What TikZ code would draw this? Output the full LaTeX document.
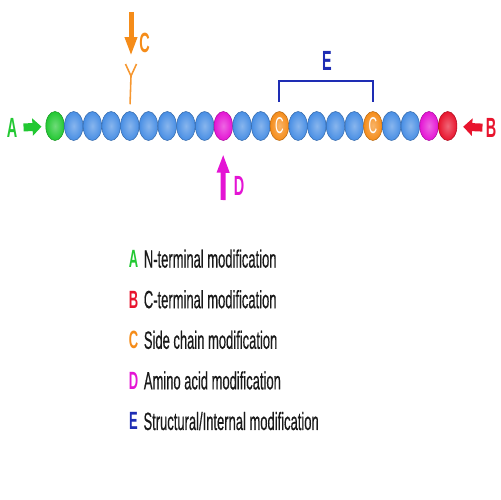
\documentclass[tikz,border=0pt]{standalone}
\usepackage{fontspec}
\setmainfont{Liberation Sans}
\newfontfamily\heavysans{Liberation Sans}[FakeBold=0.7]
\usepackage{graphicx}
\usetikzlibrary{shapes.geometric, arrows.meta, positioning}
\definecolor{pgreen}{RGB}{34,200,50}
\definecolor{pred}{RGB}{232,20,45}
\definecolor{pmag}{RGB}{228,20,212}
\definecolor{porange}{RGB}{245,140,25}
\definecolor{pblue}{RGB}{72,142,228}
\definecolor{eblue}{RGB}{30,45,180}
\newcommand{\cond}[1]{\scalebox{0.52}[1]{#1}}
\tikzset{
  bead/.style={ellipse, minimum width=0.37cm, minimum height=0.58cm, inner sep=0pt,
    draw=#1!75!black, line width=0.3pt, inner color=#1!65!white, outer color=#1},
  tag/.style={inner sep=0pt, font=\fontsize{15.8}{16}\selectfont\bfseries},
  legkey/.style={inner sep=0pt, font=\fontsize{14.2}{15}\selectfont\bfseries},
  legtext/.style={inner sep=0pt, font=\fontsize{14.2}{15}\heavysans, text=black!90},
  fatarrow/.style={-{Triangle[length=0.18cm, width=0.34cm]}, line width=0.16cm},
  thinarrow/.style={-{Triangle[length=0.38cm, width=0.23cm]}, line width=0.1cm}
}
\begin{document}
\begin{tikzpicture}[x=0.02cm, y=-0.02cm]
  \useasboundingbox (0,0) rectangle (500,500);

  % Peptide chain
  \foreach \i/\col in {0/pgreen,1/pblue,2/pblue,3/pblue,4/pblue,5/pblue,6/pblue,
      7/pblue,8/pblue,9/pmag,10/pblue,11/pblue,12/porange,13/pblue,14/pblue,
      15/pblue,16/pblue,17/porange,18/pblue,19/pblue,20/pmag,21/pred}
    \node[bead=\col] (b\i) at ({55+18.7*\i},126) {};
  \node[text=white, inner sep=0pt, font=\fontsize{13}{13}\selectfont] (cys1) at (b12) {\cond{C}};
  \node[text=white, inner sep=0pt, font=\fontsize{13}{13}\selectfont] (cys2) at (b17) {\cond{C}};

  % A: N-terminus
  \node[tag, text=pgreen] (nA) at (12,128) {\cond{A}};
  \draw[fatarrow, pgreen, shorten <=0.12cm, shorten >=0.08cm] (nA) -- (b0);

  % B: C-terminus
  \node[tag, text=pred] (nB) at (491,128) {\cond{B}};
  \draw[fatarrow, pred, shorten <=0.06cm, shorten >=0.12cm] (nB) -- (b21);

  % C: side chain
  \coordinate (fork) at (131,76);
  \coordinate (armL) at (125.5,64);
  \coordinate (armR) at (136.5,64);
  \draw[porange!90, line width=0.9pt, shorten <=0.14cm] (b4.north) -- (fork);
  \draw[porange!90, line width=0.9pt] (armL) -- (fork) -- (armR);
  \coordinate (cTop) at (131,12);
  \coordinate (cTip) at (131,56);
  \draw[thinarrow, porange] (cTop) -- (cTip);
  \node[tag, text=porange] (nC) at (144.5,43) {\cond{C}};

  % D: amino acid
  \coordinate (dTail) at (223,200);
  \draw[thinarrow, pmag, shorten >=0.26cm] (dTail) -- (b9);
  \node[tag, text=pmag] (nD) at (239,186) {\cond{D}};

  % E: disulfide bridge
  \coordinate (eTop) at (326.5,81);
  \draw[eblue, line width=1.2pt, shorten <=0.18cm, shorten >=0.18cm]
    (b12.north) |- (eTop) -| (b17.north);
  \node[tag, text=eblue] (nE) at (327,61) {\cond{E}};

  % Legend
  \foreach \l/\col/\txt [count=\k from 0] in {A/pgreen/N-terminal modification,
      B/pred/C-terminal modification, C/porange/Side chain modification,
      D/pmag/Amino acid modification, E/eblue/{Structural/Internal modification}}
  {
    \node[legkey, text=\col] (key\l) at (133.5,{259+40.6*\k}) {\cond{\l}};
    \node[legtext, right=0.1cm of key\l.base east, anchor=base west] (txt\l) {\cond{\txt}};
  }
\end{tikzpicture}
\end{document}
